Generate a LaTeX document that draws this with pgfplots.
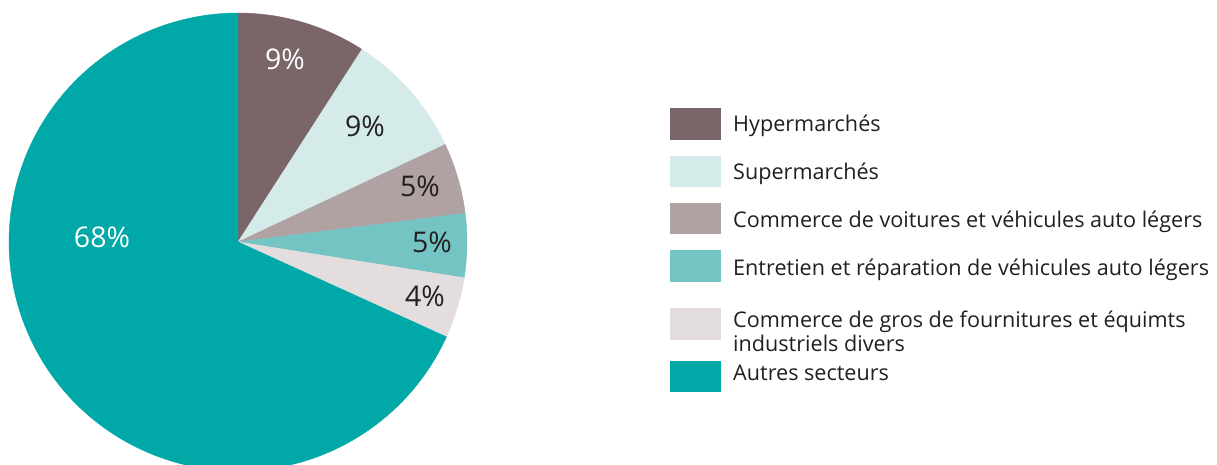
\documentclass[border=0pt]{standalone}
\usepackage{fontspec}
\setmainfont{Open Sans}
\usepackage{pgfplots}
\pgfplotsset{compat=1.18}
\definecolor{hyp}{RGB}{122,101,104}
\definecolor{sup}{RGB}{213,235,233}
\definecolor{voit}{RGB}{176,162,162}
\definecolor{entr}{RGB}{116,196,196}
\definecolor{gros}{RGB}{227,221,222}
\definecolor{autres}{RGB}{0,168,168}
\definecolor{txt}{RGB}{35,31,32}
% slice: start %, end % (cumulative, clockwise from 12 o'clock), colour
\newcommand\slice[3]{%
  \addplot[fill=#3, draw=#3, line width=0.4pt, domain={90-3.6*#2}:{90-3.6*#1}, samples=120, variable=\t]
    ({238+229*cos(t)},{223+229*sin(t)}) -- (axis cs:238,223) -- cycle;
}
\begin{document}
\begin{tikzpicture}
\useasboundingbox (0,0) rectangle (1217pt,465pt);
\begin{axis}[
  at={(0,0)}, anchor=south west,
  width=1217pt, height=465pt, scale only axis,
  xmin=0, xmax=1217, ymin=0, ymax=465,
  hide axis, clip=true,
]
% shares: 9.1, 8.9, 5.0, 4.5, 4.3, 68.2
\slice{0}{9.1}{hyp}
\slice{9.1}{18.0}{sup}
\slice{18.0}{23.0}{voit}
\slice{23.0}{27.5}{entr}
\slice{27.5}{31.8}{gros}
\slice{31.8}{100}{autres}

\begin{scope}[every node/.style={font=\fontsize{28.5}{32}\selectfont, anchor=base}]
\node[white] at (axis cs:285,395) {9\%};
\node[txt] at (axis cs:365,328) {9\%};
\node[txt] at (axis cs:420,268) {5\%};
\node[txt] at (axis cs:432,212) {5\%};
\node[txt] at (axis cs:425,158) {4\%};
\node[white] at (axis cs:102,217) {68\%};
\end{scope}

% legend
\fill[hyp]    (axis cs:670,357) rectangle (axis cs:721,325);
\fill[sup]    (axis cs:670,309) rectangle (axis cs:721,278);
\fill[voit]   (axis cs:670,262) rectangle (axis cs:721,231);
\fill[entr]   (axis cs:670,215) rectangle (axis cs:721,183);
\fill[gros]   (axis cs:670,157) rectangle (axis cs:721,125);
\fill[autres] (axis cs:670,104) rectangle (axis cs:721,73);
\begin{scope}[every node/.style={font=\fontsize{21.6}{27}\selectfont, anchor=base west, inner sep=0pt, text=txt}]
\node at (axis cs:733,333) {Hypermarchés};
\node at (axis cs:733,285) {Supermarchés};
\node at (axis cs:733,237) {Commerce de voitures et véhicules auto légers};
\node at (axis cs:733,189) {Entretien et réparation de véhicules auto légers};
\node at (axis cs:733,137) {Commerce de gros de fournitures et équimts};
\node at (axis cs:733,113) {industriels divers};
\node at (axis cs:733,84) {Autres secteurs};
\end{scope}
\end{axis}
\end{tikzpicture}
\end{document}
